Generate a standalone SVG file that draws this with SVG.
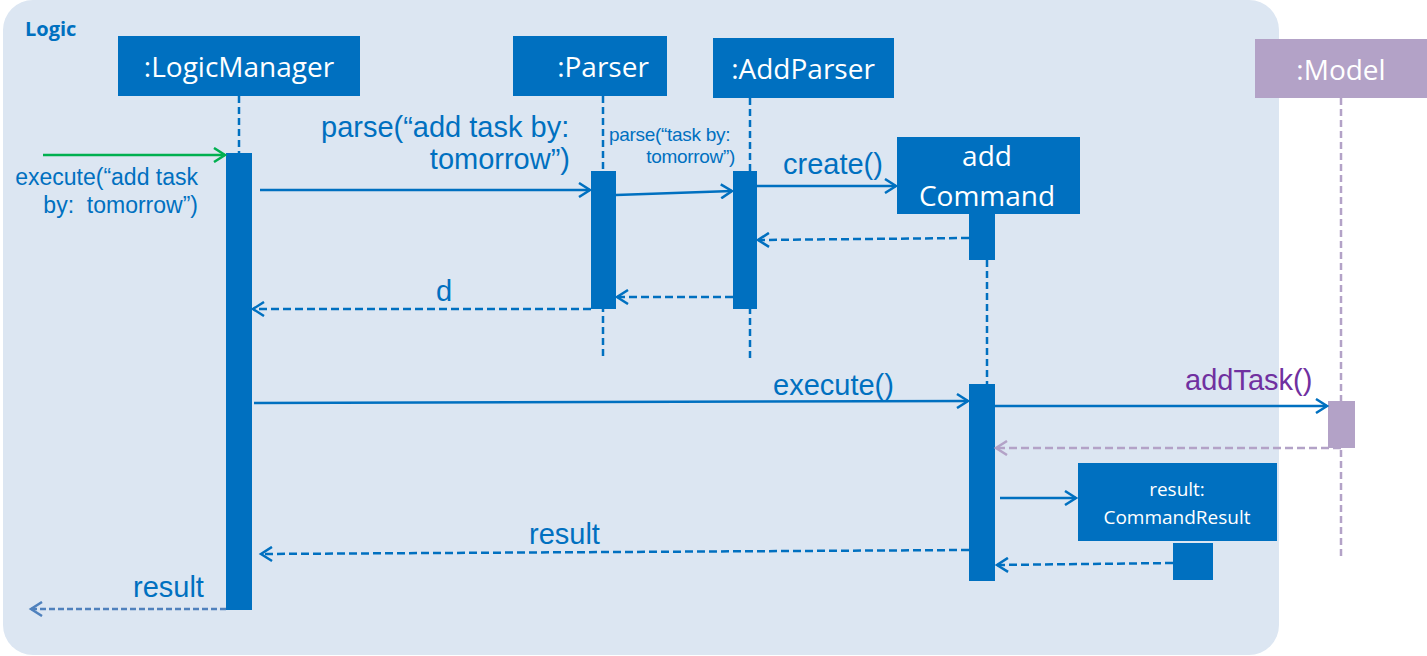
<svg xmlns="http://www.w3.org/2000/svg" width="1427" height="656" viewBox="0 0 1427 656">
<style>
.hdr{fill:#0070c0}
.hdrtext{font-family:"Open Sans",Lato,sans-serif;fill:#ffffff;font-size:28px;text-anchor:middle}
.act{fill:#0070c0}
.life{stroke:#0070c0;stroke-width:2.5;stroke-dasharray:7 4;fill:none}
.msg{stroke:#0070c0;stroke-width:2.5;fill:none}
.ret{stroke:#0070c0;stroke-width:2.5;fill:none;stroke-dasharray:8 4}
.lbl{font-family:"Liberation Sans",Arial,sans-serif;fill:#0070c0}
</style>
<defs>
<marker id="ah" markerWidth="16" markerHeight="16" refX="13" refY="8" orient="auto" markerUnits="userSpaceOnUse">
<path d="M2,1 L13,8 L2,15" fill="none" stroke="#0070c0" stroke-width="2.5"/>
</marker>
<marker id="ahg" markerWidth="16" markerHeight="16" refX="13" refY="8" orient="auto" markerUnits="userSpaceOnUse">
<path d="M2,1 L13,8 L2,15" fill="none" stroke="#00b050" stroke-width="2.5"/>
</marker>
<marker id="ahp" markerWidth="16" markerHeight="16" refX="13" refY="8" orient="auto" markerUnits="userSpaceOnUse">
<path d="M2,1 L13,8 L2,15" fill="none" stroke="#b3a2c7" stroke-width="2.5"/>
</marker>
<marker id="ahl" markerWidth="16" markerHeight="16" refX="13" refY="8" orient="auto" markerUnits="userSpaceOnUse">
<path d="M2,1 L13,8 L2,15" fill="none" stroke="#4f81bd" stroke-width="2.5"/>
</marker>
</defs>
<rect width="1427" height="656" fill="#ffffff"/>
<g id="frame">
<rect x="3" y="0" width="1276" height="655" rx="30" ry="30" fill="#dce6f2"/>
<text x="25" y="36" font-family="'Open Sans',Lato,sans-serif" font-weight="bold" font-size="20" fill="#0070c0">Logic</text>
</g>
<g id="lifelines">
<line class="life" x1="239" y1="96" x2="239" y2="153"/>
<line class="life" x1="603" y1="96" x2="603" y2="358"/>
<line class="life" x1="750" y1="98" x2="750" y2="360"/>
<line class="life" x1="987" y1="260" x2="987" y2="384"/>
<line class="life" x1="1341" y1="98" x2="1341" y2="560" style="stroke:#b3a2c7"/>
</g>
<g id="LogicManager">
<rect class="hdr" x="118" y="36" width="242" height="60"/>
<text class="hdrtext" x="239" y="77">:LogicManager</text>
<rect class="act" x="226" y="153" width="26" height="457"/>
</g>
<g id="Parser">
<rect class="hdr" x="513" y="36" width="154" height="60"/>
<text class="hdrtext" x="603" y="77">:Parser</text>
<rect class="act" x="591" y="171" width="25" height="138"/>
</g>
<g id="AddParser">
<rect class="hdr" x="713" y="38" width="181" height="60"/>
<text class="hdrtext" x="803" y="79">:AddParser</text>
<rect class="act" x="733" y="171" width="24" height="138"/>
</g>
<g id="addCommand">
<rect class="hdr" x="897" y="137" width="183" height="77"/>
<text class="hdrtext" x="987" y="166">add</text>
<text class="hdrtext" x="987" y="206">Command</text>
<rect class="act" x="969" y="214" width="26" height="46"/>
<rect class="act" x="969" y="384" width="26" height="197"/>
</g>
<g id="Model">
<rect x="1255" y="39" width="172" height="59" fill="#b3a2c7"/>
<text class="hdrtext" x="1341" y="80">:Model</text>
<rect x="1328" y="401" width="27" height="47" fill="#b3a2c7"/>
</g>
<g id="CommandResult">
<rect class="hdr" x="1078" y="463" width="199" height="78"/>
<text class="hdrtext" x="1177" y="496" style="font-size:19px">result:</text>
<text class="hdrtext" x="1177" y="524" style="font-size:19px">CommandResult</text>
<rect class="act" x="1173" y="543" width="40" height="37"/>
</g>
<g id="connectors">
<line x1="43" y1="155" x2="225" y2="155" stroke="#00b050" stroke-width="2.5" marker-end="url(#ahg)"/>
<line class="msg" x1="260" y1="190" x2="590" y2="190" marker-end="url(#ah)"/>
<line class="msg" x1="616" y1="195" x2="732" y2="191" marker-end="url(#ah)"/>
<line class="msg" x1="757" y1="186" x2="896" y2="186" marker-end="url(#ah)"/>
<line class="ret" x1="969" y1="238" x2="758" y2="240" marker-end="url(#ah)"/>
<line class="ret" x1="733" y1="297" x2="617" y2="297" marker-end="url(#ah)"/>
<line class="ret" x1="591" y1="309" x2="253" y2="309" marker-end="url(#ah)"/>
<line class="msg" x1="254" y1="403" x2="968" y2="401" marker-end="url(#ah)"/>
<line class="msg" x1="995" y1="406" x2="1327" y2="406" marker-end="url(#ah)"/>
<line x1="1341" y1="448" x2="996" y2="448" stroke="#b3a2c7" stroke-width="2.5" stroke-dasharray="8 4" marker-end="url(#ahp)"/>
<line class="msg" x1="1000" y1="498" x2="1076" y2="498" marker-end="url(#ah)"/>
<line class="ret" x1="1173" y1="563" x2="997" y2="565" marker-end="url(#ah)"/>
<line class="ret" x1="969" y1="550" x2="261" y2="554" marker-end="url(#ah)"/>
<line x1="226" y1="609" x2="31" y2="609" stroke="#4f81bd" stroke-width="2.5" stroke-dasharray="6 3" marker-end="url(#ahl)"/>
</g>
<g id="labels">
<text class="lbl" font-size="23" x="198" y="185" text-anchor="end">execute(“add task</text>
<text class="lbl" font-size="23" x="198" y="213" text-anchor="end">by:&#160; tomorrow”)</text>
<text class="lbl" font-size="29" x="321" y="137">parse(“add task by:</text>
<text class="lbl" font-size="29" x="570" y="169" text-anchor="end">tomorrow”)</text>
<text class="lbl" font-size="19" x="609" y="141" letter-spacing="-0.3">parse(“task by:</text>
<text class="lbl" font-size="19" x="735" y="163" text-anchor="end" letter-spacing="-0.3">tomorrow”)</text>
<text class="lbl" font-size="29" x="783" y="174">create()</text>
<text class="lbl" font-size="29" x="436" y="301">d</text>
<text class="lbl" font-size="29" x="773" y="395">execute()</text>
<text class="lbl" font-size="29" x="1185" y="390" style="fill:#7030a0">addTask()</text>
<text class="lbl" font-size="29" x="529" y="544">result</text>
<text class="lbl" font-size="29" x="133" y="597">result</text>
</g>
</svg>
